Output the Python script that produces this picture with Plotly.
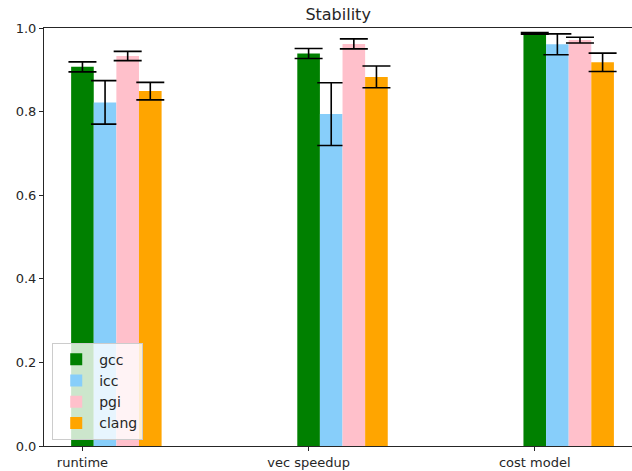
import plotly.graph_objects as go

# Benchmark categories and compilers
categories = ["runtime", "vec speedup", "cost model"]
compilers = ["gcc", "icc", "pgi", "clang"]
colors = ["green", "lightskyblue", "pink", "orange"]

# Mean stability per compiler, one value per category
gcc_vals = [0.907, 0.939, 0.987]
icc_vals = [0.822, 0.794, 0.961]
pgi_vals = [0.933, 0.962, 0.971]
clang_vals = [0.849, 0.883, 0.918]

# Error bar half-lengths
gcc_err = [0.012, 0.012, 0.002]
icc_err = [0.052, 0.075, 0.025]
pgi_err = [0.011, 0.012, 0.007]
clang_err = [0.021, 0.026, 0.022]

values = [gcc_vals, icc_vals, pgi_vals, clang_vals]
errors = [gcc_err, icc_err, pgi_err, clang_err]

bar_w = 0.1
positions = list(range(len(categories)))

fig = go.Figure()
for i, name in enumerate(compilers):
    fig.add_trace(go.Bar(
        x=[p + i * bar_w for p in positions],
        y=values[i],
        width=bar_w,
        name=name,
        marker=dict(color=colors[i], line=dict(width=0)),
        error_y=dict(type="data", array=errors[i], color="black",
                     thickness=1.6, width=14),
    ))

font = "DejaVu Sans, sans-serif"
fig.update_layout(
    width=632, height=471,
    margin=dict(l=44, r=0, t=28, b=25),
    barmode="overlay",
    plot_bgcolor="white",
    paper_bgcolor="white",
    font=dict(family=font, size=13, color="#262626"),
    title=dict(text="Stability", x=0.535, xanchor="center", y=0.97,
               yanchor="middle", font=dict(size=16, color="#262626")),
    xaxis=dict(
        range=[-0.17, 2.43],
        tickvals=positions, ticktext=categories,
        showgrid=False, zeroline=False,
        showline=True, linecolor="#262626", linewidth=1, mirror=True,
        ticks="outside", ticklen=4, tickcolor="#262626",
    ),
    yaxis=dict(
        range=[0, 1],
        tickvals=[0, 0.2, 0.4, 0.6, 0.8, 1.0],
        tickformat=".1f",
        showgrid=False, zeroline=False,
        showline=True, linecolor="#262626", linewidth=1,
        ticks="outside", ticklen=4, tickcolor="#262626",
    ),
    legend=dict(
        x=0.014, y=0.015, xanchor="left", yanchor="bottom",
        bgcolor="rgba(255,255,255,0.8)", bordercolor="#cccccc",
        borderwidth=1, font=dict(size=14),
        itemwidth=36, tracegroupgap=1,
    ),
)

fig.write_html("out.html")
